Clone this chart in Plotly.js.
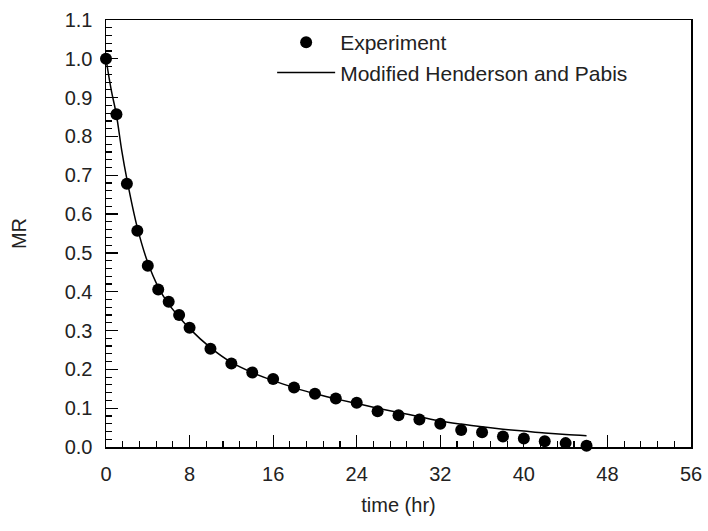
<!DOCTYPE html>
<html>
<head>
<meta charset="utf-8">
<script src="https://cdn.plot.ly/plotly-3.0.1.min.js"></script>
<style>html,body{margin:0;padding:0;background:#fff;}#chart{width:708px;height:531px;}</style>
</head>
<body>
<div id="chart"></div>
<script>
// Experimental moisture ratio
const expTime = [0,1,2,3,4,5,6,7,8,10,12,14,16,18,20,22,24,26,28,30,32,34,36,38,40,42,44,46];
const expMR   = [1.0,0.857,0.678,0.557,0.467,0.406,0.374,0.340,0.307,0.253,0.215,0.192,0.175,0.153,0.137,0.125,0.114,0.092,0.082,0.071,0.060,0.044,0.038,0.027,0.022,0.015,0.010,0.003];
// Modified Henderson and Pabis curve
const modelTime = [0,0.5,1,1.5,2,3,4,5,6,7,8,10,12,14,16,18,20,22,24,26,28,30,32,34,36,38,40,42,44,46];
const modelMR   = [1.0,0.92,0.855,0.765,0.69,0.565,0.475,0.412,0.368,0.335,0.305,0.256,0.218,0.192,0.171,0.153,0.137,0.124,0.112,0.100,0.089,0.078,0.067,0.059,0.052,0.046,0.041,0.036,0.032,0.029];
const xTickVals = [0,8,16,24,32,40,48,56];
const yTickVals = [0.0,0.1,0.2,0.3,0.4,0.5,0.6,0.7,0.8,0.9,1.0,1.1];

const FONT = 'Liberation Sans, Arial, sans-serif';

const traces = [
  {x: expTime, y: expMR, mode: 'markers', type: 'scatter', name: 'Experiment',
   marker: {color: '#000', size: 12}, cliponaxis: false},
  {x: modelTime, y: modelMR, mode: 'lines', type: 'scatter', name: 'Modified Henderson and Pabis',
   line: {color: '#000', width: 1.5, shape: 'spline'}}
];

const axisCommon = {
  showgrid: false, zeroline: false, showline: true, linecolor: '#000', linewidth: 1.5,
  mirror: true, ticks: 'inside', tickcolor: '#000', tickwidth: 1.2, ticklen: 12,
  tickfont: {family: FONT, size: 20, color: '#222'}
};

const layout = {
  width: 708, height: 531,
  margin: {l: 106, r: 17, t: 20, b: 84},
  paper_bgcolor: '#fff', plot_bgcolor: '#fff',
  font: {family: FONT, color: '#222'},
  showlegend: true,
  legend: {x: 0.284, y: 0.995, xanchor: 'left', yanchor: 'top', bgcolor: 'rgba(0,0,0,0)',
           font: {family: FONT, size: 21, color: '#222'}, itemwidth: 58, tracegroupgap: 0},
  xaxis: Object.assign({}, axisCommon, {
    range: [0, 56], tickvals: xTickVals, ticktext: xTickVals.map(String),
    minor: {dtick: 1.6, tick0: 0, ticks: 'inside', ticklen: 6, tickcolor: '#000', tickwidth: 1.2},
    ticklabelstandoff: 8,
    title: {text: 'time (hr)', font: {family: FONT, size: 20, color: '#222'}, standoff: 14}
  }),
  yaxis: Object.assign({}, axisCommon, {
    range: [0, 1.1], tickvals: yTickVals, ticktext: yTickVals.map(v => v.toFixed(1)),
    minor: {dtick: 0.02, tick0: 0, ticks: 'inside', ticklen: 6, tickcolor: '#000', tickwidth: 1.2},
    ticklabelstandoff: 8,
    title: {text: 'MR', font: {family: FONT, size: 20, color: '#222'}, standoff: 32}
  })
};

Plotly.newPlot('chart', traces, layout, {displayModeBar: false, staticPlot: true});
</script>
</body>
</html>
